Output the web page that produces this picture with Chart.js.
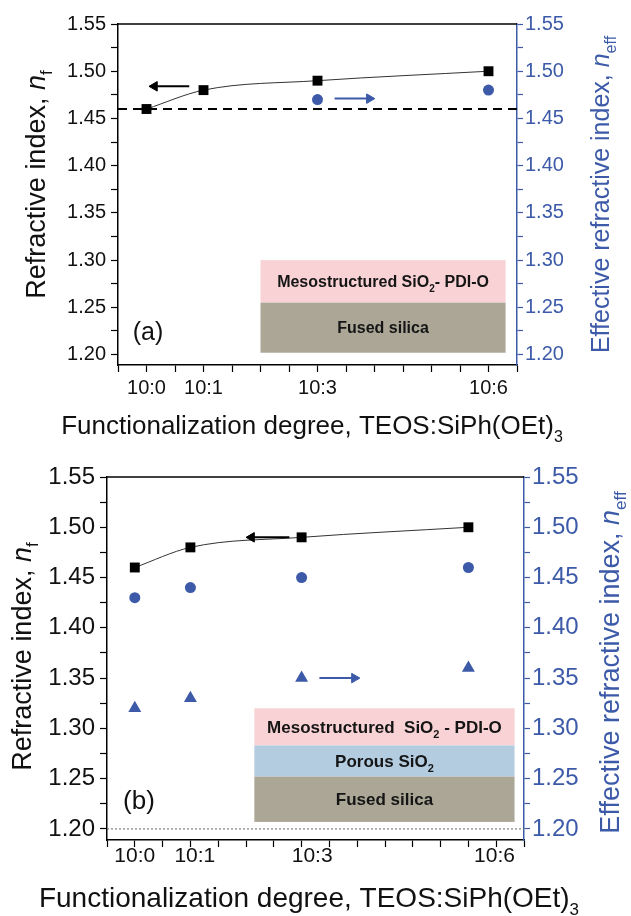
<!DOCTYPE html>
<html>
<head>
<meta charset="utf-8">
<script src="https://cdn.jsdelivr.net/npm/chart.js@4.4.0/dist/chart.umd.min.js"></script>
<style>
  body { margin: 0; background: #fff; }
  #chartA { position: absolute; left: 0; top: 0; }
  #chartB { position: absolute; left: 0; top: 450px; }
</style>
</head>
<body>
<canvas id="chartA" width="631" height="450"></canvas>
<canvas id="chartB" width="631" height="466"></canvas>
<script>
// categories: TEOS:SiPh(OEt)3 ratio and its place on the axis
var ratioLabels = ['10:0', '10:1', '10:3', '10:6'];
var ratioPos = [0, 1, 3, 6];

// panel (a)
var nfA = [1.46, 1.48, 1.49, 1.50];      // film index, left axis
var neffPosA = [3, 6];
var neffA = [1.47, 1.48];                // effective index, right axis
var silicaIndex = 1.46;                  // dashed reference

// panel (b)
var nfB = [1.46, 1.48, 1.49, 1.50];
var neffCircleB = [1.43, 1.44, 1.45, 1.46];
var neffTriangleB = [1.32, 1.33, 1.35, 1.36];
var baseLineB = 1.20;                    // dotted line
var labelPosB = [0, 1.08, 3.19, 6.47];   // where the ratio labels sit in (b)

var yMin = 1.189, yMax = 1.55;

var FONT = "'Liberation Sans', Arial, sans-serif";
var BLUE = '#3c5aa8';

function pts(xs, ys) {
  return xs.map(function (x, i) { return { x: x, y: ys[i] }; });
}

// arrow: head at x0, tail at x1
function arrowSet(x0, x1, y, color, yAxis) {
  return {
    data: [{ x: x0, y: y }, { x: x1, y: y }],
    showLine: true, borderColor: color, backgroundColor: color, borderWidth: 2,
    pointStyle: 'triangle', pointRadius: [5.5, 0], pointBorderWidth: 1,
    pointRotation: x0 < x1 ? -90 : 90,
    xAxisID: 'x', yAxisID: yAxis, order: 1
  };
}

function rich(size, color, segs, bold) {
  var w = bold ? 'bold ' : '';
  return segs.map(function (s) {
    if (typeof s === 'string') return { text: s, font: w + size + 'px ' + FONT, color: color };
    if (s.i) return { text: s.i, font: 'italic ' + w + size + 'px ' + FONT, color: color };
    return { text: s.s, font: w + Math.round(size * 0.62) + 'px ' + FONT, color: color, dy: size * 0.28 };
  });
}

// centred text with italic / subscript pieces
function drawRich(ctx, parts, x, y, rot, size) {
  ctx.save();
  ctx.translate(x, y);
  ctx.rotate(rot || 0);
  var total = 0;
  parts.forEach(function (p) { ctx.font = p.font; p.w = ctx.measureText(p.text).width; total += p.w; });
  var cx = -total / 2;
  ctx.textAlign = 'left';
  ctx.textBaseline = 'alphabetic';
  parts.forEach(function (p) {
    ctx.font = p.font;
    ctx.fillStyle = p.color;
    ctx.fillText(p.text, cx, size * 0.36 + (p.dy || 0));
    cx += p.w;
  });
  ctx.restore();
}

var decor = {
  id: 'decor',
  beforeDatasetsDraw: function (chart, args, o) {
    var ctx = chart.ctx, xs = chart.scales.x, ys = chart.scales.y;
    var x0 = xs.getPixelForValue(o.inset.x[0]), x1 = xs.getPixelForValue(o.inset.x[1]);
    o.inset.layers.forEach(function (L) {
      var t = ys.getPixelForValue(L.top), b = ys.getPixelForValue(L.bottom);
      ctx.fillStyle = L.color;
      ctx.fillRect(x0, t, x1 - x0, b - t);
      drawRich(ctx, rich(o.inset.size, '#151515', L.text, true), (x0 + x1) / 2, (t + b) / 2, 0, o.inset.size);
    });
  },
  afterDraw: function (chart, args, o) {
    var ctx = chart.ctx, a = chart.chartArea;
    ctx.save();
    ctx.strokeStyle = '#000';
    ctx.lineWidth = 1.5;
    ctx.beginPath();
    ctx.moveTo(a.left, a.top);
    ctx.lineTo(a.right, a.top);
    ctx.stroke();
    ctx.font = o.tagSize + 'px ' + FONT;
    ctx.fillStyle = '#111';
    ctx.textAlign = 'center';
    ctx.textBaseline = 'middle';
    ctx.fillText(o.tag, a.left + o.tagDx, a.bottom - o.tagDy);
    ctx.restore();

    var cy = (a.top + a.bottom) / 2;
    drawRich(ctx, rich(o.leftSize, '#111', ['Refractive index, ', { i: 'n' }, { s: 'f' }]),
      o.leftX, cy + o.leftDy, -Math.PI / 2, o.leftSize);
    drawRich(ctx, rich(o.rightSize, BLUE, ['Effective refractive index, ', { i: 'n' }, { s: 'eff' }]),
      o.rightX, cy + o.rightDy, -Math.PI / 2, o.rightSize);
    drawRich(ctx, rich(o.xSize, '#111', ['Functionalization degree, TEOS:SiPh(OEt)', { s: '3' }]),
      o.xTitleX, o.xTitleY, 0, o.xSize);
  }
};

function isMajor(v) {
  return Math.abs(v * 20 - Math.round(v * 20)) < 1e-6;
}

function makeChart(id, p) {
  return new Chart(document.getElementById(id), {
    type: 'scatter',
    data: { datasets: p.datasets },
    options: {
      responsive: false,
      animation: false,
      devicePixelRatio: 1,
      layout: { padding: { top: p.top, left: 0, right: 0, bottom: 0 } },
      plugins: { legend: { display: false }, tooltip: { enabled: false }, decor: p.decor },
      scales: {
        x: {
          type: 'linear', position: 'bottom', min: -0.5, max: p.xMax,
          afterFit: function (s) { s.height = 8; },
          ticks: { display: false, stepSize: 0.5, includeBounds: false },
          grid: { drawOnChartArea: false, drawTicks: true, tickLength: 7, tickColor: '#000', tickWidth: 1.2 },
          border: { color: '#000', width: 1.5 }
        },
        xl: {
          type: 'linear', position: 'bottom', weight: 1, min: -0.5, max: p.xMax,
          afterFit: function (s) { s.height = p.bottomH - 8; },
          afterBuildTicks: function (s) { s.ticks = p.labelPos.map(function (v) { return { value: v }; }); },
          ticks: {
            autoSkip: false, maxRotation: 0, padding: p.xPad, color: '#111',
            font: { family: FONT, size: p.xTickSize, lineHeight: 1 },
            callback: function (v, i) { return ratioLabels[i]; }
          },
          grid: { display: false, drawTicks: false },
          border: { display: false }
        },
        y: {
          position: 'left', min: yMin, max: yMax,
          afterFit: function (s) { s.width = p.leftW; },
          ticks: {
            stepSize: 0.025, includeBounds: false, autoSkip: false, padding: 5, color: '#111',
            font: { family: FONT, size: p.yTickSize },
            callback: function (v) { return isMajor(v) ? v.toFixed(2) : ''; }
          },
          grid: { drawOnChartArea: false, drawTicks: true, tickLength: 7, tickColor: '#000', tickWidth: 1.2 },
          border: { color: '#000', width: 1.5 }
        },
        y2: {
          position: 'right', min: yMin, max: yMax,
          afterFit: function (s) { s.width = p.rightW; },
          ticks: {
            stepSize: 0.025, includeBounds: false, autoSkip: false, padding: 2, color: BLUE,
            font: { family: FONT, size: p.yTickSize },
            callback: function (v) { return isMajor(v) ? v.toFixed(2) : ''; }
          },
          grid: { drawOnChartArea: false, drawTicks: true, tickLength: 6, tickColor: BLUE, tickWidth: 1.2 },
          border: { color: BLUE, width: 1.5 }
        }
      }
    },
    plugins: [decor]
  });
}

var PINK = '#f8d2d4', GREY = '#aba696', PALEBLUE = '#b3cce0';

var chartA = makeChart('chartA', {
  top: 24, xMax: 6.5, bottomH: 85, leftW: 118, rightW: 114,
  labelPos: ratioPos, xPad: 5, xTickSize: 20, yTickSize: 20,
  datasets: [
    { data: pts(ratioPos, nfA), showLine: true, borderColor: '#333', borderWidth: 1, pointRadius: 0,
      cubicInterpolationMode: 'monotone', xAxisID: 'x', yAxisID: 'y', order: 3 },
    { data: pts(ratioPos, nfA), pointStyle: 'rect', pointRadius: 7, pointBorderWidth: 0,
      backgroundColor: '#000', borderColor: '#000', xAxisID: 'x', yAxisID: 'y', order: 0 },
    { data: pts(neffPosA, neffA), pointStyle: 'circle', pointRadius: 5.5, pointBorderWidth: 0,
      backgroundColor: BLUE, borderColor: BLUE, xAxisID: 'x', yAxisID: 'y2', order: 0 },
    { data: [{ x: -0.5, y: silicaIndex }, { x: 6.5, y: silicaIndex }], showLine: true, borderDash: [9, 6],
      borderColor: '#000', borderWidth: 2, pointRadius: 0, xAxisID: 'x', yAxisID: 'y', order: 4 },
    arrowSet(0.14, 0.75, 1.484, '#000', 'y'),
    arrowSet(3.91, 3.3, 1.471, BLUE, 'y2')
  ],
  decor: {
    inset: {
      x: [2.0, 6.3], size: 16,
      layers: [
        { top: 1.30, bottom: 1.255, color: PINK, text: ['Mesostructured SiO', { s: '2' }, '- PDI-O'] },
        { top: 1.255, bottom: 1.202, color: GREY, text: ['Fused silica'] }
      ]
    },
    tag: '(a)', tagSize: 25, tagDx: 30, tagDy: 32,
    leftX: 35, leftDy: -10, leftSize: 27,
    rightX: 600, rightDy: 0, rightSize: 25,
    xTitleX: 312, xTitleY: 425, xSize: 26
  }
});

var chartB = makeChart('chartB', {
  top: 27, xMax: 7.0, bottomH: 76, leftW: 107, rightW: 107,
  labelPos: labelPosB, xPad: -2, xTickSize: 21, yTickSize: 24,
  datasets: [
    { data: pts(ratioPos, nfB), showLine: true, borderColor: '#333', borderWidth: 1, pointRadius: 0,
      cubicInterpolationMode: 'monotone', xAxisID: 'x', yAxisID: 'y', order: 3 },
    { data: pts(ratioPos, nfB), pointStyle: 'rect', pointRadius: 7, pointBorderWidth: 0,
      backgroundColor: '#000', borderColor: '#000', xAxisID: 'x', yAxisID: 'y', order: 0 },
    { data: pts(ratioPos, neffCircleB), pointStyle: 'circle', pointRadius: 5.5, pointBorderWidth: 0,
      backgroundColor: BLUE, borderColor: BLUE, xAxisID: 'x', yAxisID: 'y2', order: 0 },
    { data: pts(ratioPos, neffTriangleB), pointStyle: 'triangle', pointRadius: 7.5, pointBorderWidth: 0,
      backgroundColor: BLUE, borderColor: BLUE, xAxisID: 'x', yAxisID: 'y2', order: 0 },
    { data: [{ x: -0.5, y: baseLineB }, { x: 7.0, y: baseLineB }], showLine: true, borderDash: [2, 2],
      borderColor: '#666', borderWidth: 1, pointRadius: 0, xAxisID: 'x', yAxisID: 'y', order: 4 },
    arrowSet(2.1, 2.78, 1.49, '#000', 'y'),
    arrowSet(3.95, 3.32, 1.35, BLUE, 'y2')
  ],
  decor: {
    inset: {
      x: [2.15, 6.83], size: 17,
      layers: [
        { top: 1.32, bottom: 1.283, color: PINK, text: ['Mesostructured  SiO', { s: '2' }, ' - PDI-O'] },
        { top: 1.283, bottom: 1.252, color: PALEBLUE, text: ['Porous SiO', { s: '2' }] },
        { top: 1.252, bottom: 1.207, color: GREY, text: ['Fused silica'] }
      ]
    },
    tag: '(b)', tagSize: 26, tagDx: 32, tagDy: 38,
    leftX: 21, leftDy: -2, leftSize: 27,
    rightX: 609, rightDy: 4, rightSize: 27,
    xTitleX: 309, xTitleY: 447, xSize: 28
  }
});
</script>
</body>
</html>
